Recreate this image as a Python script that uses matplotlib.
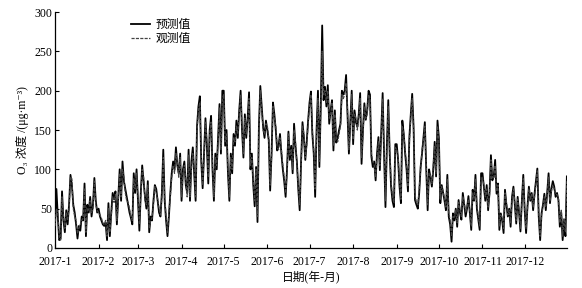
import matplotlib
matplotlib.use("Agg")
import matplotlib.pyplot as plt
import numpy as np
import pandas as pd

plt.rcParams['font.family'] = ['Liberation Serif', 'Noto Sans CJK SC', 'DejaVu Sans']

# daily predicted values by month
pred_jan = [30, 75, 40, 10, 12, 72, 35, 20, 48, 30, 55, 93, 80, 55, 45, 30, 12, 28, 22, 40, 35, 82, 15, 55, 45, 65, 40, 55, 89, 60, 45]
pred_feb = [50, 40, 35, 30, 28, 32, 10, 57, 15, 45, 70, 62, 72, 30, 65, 100, 60, 110, 85, 75, 65, 55, 45, 38, 30, 95, 70, 100]
pred_mar = [60, 22, 70, 105, 85, 65, 50, 85, 20, 40, 35, 60, 80, 75, 60, 45, 40, 70, 125, 60, 35, 15, 40, 70, 95, 110, 100, 128, 105, 95, 120]
pred_apr = [60, 100, 110, 80, 70, 125, 60, 110, 128, 95, 60, 155, 180, 193, 110, 76, 120, 165, 130, 82, 150, 168, 100, 60, 120, 100, 140, 183, 120, 200]
pred_may = [200, 130, 150, 95, 60, 120, 95, 145, 130, 162, 140, 175, 200, 150, 115, 170, 140, 165, 198, 100, 120, 80, 53, 103, 33, 154, 206, 180, 154, 140, 162]
pred_jun = [150, 137, 73, 120, 185, 170, 150, 124, 130, 145, 120, 100, 85, 65, 100, 148, 112, 130, 95, 158, 130, 110, 75, 48, 110, 160, 140, 112, 135, 162]
pred_jul = [185, 199, 145, 120, 65, 150, 200, 103, 180, 283, 188, 205, 180, 207, 158, 175, 188, 124, 175, 134, 140, 150, 158, 200, 195, 200, 220, 170, 120, 160, 200]
pred_aug = [132, 175, 160, 154, 170, 197, 107, 150, 184, 163, 175, 200, 195, 116, 103, 110, 86, 120, 141, 99, 150, 197, 120, 52, 130, 188, 120, 78, 60, 52, 132]
pred_sep = [132, 112, 78, 57, 162, 145, 120, 100, 72, 141, 170, 196, 154, 61, 55, 50, 70, 103, 120, 140, 160, 100, 48, 100, 90, 78, 100, 135, 91, 162]
pred_oct = [140, 57, 80, 70, 60, 48, 93, 40, 30, 8, 44, 35, 50, 27, 61, 45, 36, 70, 55, 40, 50, 66, 45, 23, 74, 60, 93, 50, 36, 23, 95]
pred_nov = [95, 78, 60, 80, 48, 70, 118, 86, 91, 112, 69, 82, 23, 44, 35, 19, 74, 55, 40, 50, 27, 65, 78, 55, 31, 65, 45, 21, 60, 93]
pred_dec = [48, 19, 53, 78, 60, 70, 48, 69, 85, 101, 40, 10, 44, 55, 69, 48, 70, 95, 57, 75, 85, 78, 65, 70, 61, 27, 45, 10, 35, 15, 91]

# daily observed values by month
obs_jan = [28, 50, 45, 15, 10, 65, 40, 25, 45, 35, 50, 90, 88, 50, 40, 35, 18, 25, 30, 35, 38, 75, 20, 50, 48, 60, 45, 50, 85, 55, 48]
obs_feb = [45, 42, 38, 32, 30, 35, 15, 50, 20, 40, 65, 58, 68, 35, 60, 95, 65, 100, 90, 70, 60, 58, 50, 40, 35, 88, 75, 95]
obs_mar = [65, 30, 65, 100, 90, 60, 55, 80, 25, 35, 38, 55, 78, 70, 62, 50, 42, 65, 115, 65, 40, 20, 45, 65, 90, 105, 95, 120, 110, 90, 115]
obs_apr = [65, 95, 105, 85, 65, 118, 65, 100, 120, 100, 65, 150, 175, 185, 115, 80, 115, 160, 135, 90, 145, 160, 105, 65, 115, 105, 135, 178, 125, 190]
obs_may = [195, 135, 145, 100, 65, 115, 100, 140, 135, 155, 145, 170, 195, 155, 120, 165, 145, 160, 190, 105, 115, 85, 60, 100, 40, 150, 200, 175, 150, 145, 158]
obs_jun = [155, 140, 80, 115, 180, 165, 155, 128, 125, 140, 125, 105, 90, 70, 95, 145, 118, 125, 100, 150, 135, 105, 80, 55, 105, 155, 145, 115, 130, 158]
obs_jul = [180, 195, 150, 125, 75, 145, 190, 110, 175, 250, 195, 200, 185, 200, 165, 170, 185, 130, 170, 140, 135, 145, 155, 195, 190, 195, 210, 175, 125, 155, 195]
obs_aug = [138, 170, 165, 150, 165, 190, 115, 145, 180, 165, 170, 195, 190, 120, 110, 105, 90, 115, 135, 105, 145, 190, 125, 60, 125, 180, 125, 85, 65, 58, 128]
obs_sep = [125, 115, 85, 62, 155, 145, 125, 105, 78, 135, 165, 190, 150, 68, 58, 55, 75, 100, 125, 135, 155, 105, 55, 95, 92, 82, 105, 130, 95, 155]
obs_oct = [135, 62, 78, 72, 62, 52, 88, 45, 35, 15, 40, 38, 48, 32, 58, 48, 40, 65, 58, 45, 52, 62, 48, 28, 70, 62, 88, 55, 40, 28, 90]
obs_nov = [90, 80, 65, 75, 52, 68, 112, 90, 88, 105, 72, 80, 28, 42, 38, 25, 70, 58, 42, 48, 32, 62, 75, 58, 35, 62, 48, 25, 58, 88]
obs_dec = [52, 25, 50, 75, 62, 68, 52, 65, 82, 98, 45, 15, 42, 52, 65, 52, 68, 90, 60, 72, 80, 75, 68, 68, 62, 32, 48, 15, 38, 20, 85]

pred = (pred_jan + pred_feb + pred_mar + pred_apr + pred_may + pred_jun +
        pred_jul + pred_aug + pred_sep + pred_oct + pred_nov + pred_dec)
obs = (obs_jan + obs_feb + obs_mar + obs_apr + obs_may + obs_jun +
       obs_jul + obs_aug + obs_sep + obs_oct + obs_nov + obs_dec)

tick_labels = ['2017-1', '2017-2', '2017-3', '2017-4', '2017-5', '2017-6',
               '2017-7', '2017-8', '2017-9', '2017-10', '2017-11', '2017-12']
series_names = ['预测值', '观测值']

dates_p = pd.date_range('2017-01-01', periods=len(pred), freq='D')
dates_o = pd.date_range('2017-01-01', periods=len(obs), freq='D')

fig = plt.figure(figsize=(5.82, 2.88), dpi=100)
ax = fig.add_axes([0.0945, 0.139, 0.8795, 0.819])

ax.plot(dates_p, pred, color='black', lw=1.3, label=series_names[0], zorder=3)
ax.plot(dates_o, obs, color='#444444', lw=0.9, ls=(0, (2.5, 1)), label=series_names[1], zorder=4)

ax.set_xlim(pd.Timestamp('2017-01-01'), pd.Timestamp('2017-12-31'))
ax.set_ylim(0, 300)
ax.set_yticks(np.arange(0, 301, 50))
month_starts = pd.date_range('2017-01-01', periods=12, freq='MS')
ax.set_xticks(month_starts)
ax.set_xticklabels(tick_labels)

for s in ['top', 'right']:
    ax.spines[s].set_visible(False)
for s in ['left', 'bottom']:
    ax.spines[s].set_linewidth(0.9)
ax.tick_params(axis='both', direction='in', length=3, width=0.8, labelsize=8.5)
ax.tick_params(axis='x', pad=6)
ax.tick_params(axis='y', pad=2)

ax.set_ylabel('O₃ 浓度 /(μg·m⁻³)', fontsize=8.5, labelpad=4)
ax.set_xlabel('日期(年-月)', fontsize=8.5, labelpad=2)

leg = ax.legend(loc='upper left', bbox_to_anchor=(0.135, 1.0), frameon=False,
                fontsize=8.5, handlelength=1.6, handletextpad=0.5, labelspacing=0.15,
                borderaxespad=0.2)

fig.savefig('out.png', dpi=100)
